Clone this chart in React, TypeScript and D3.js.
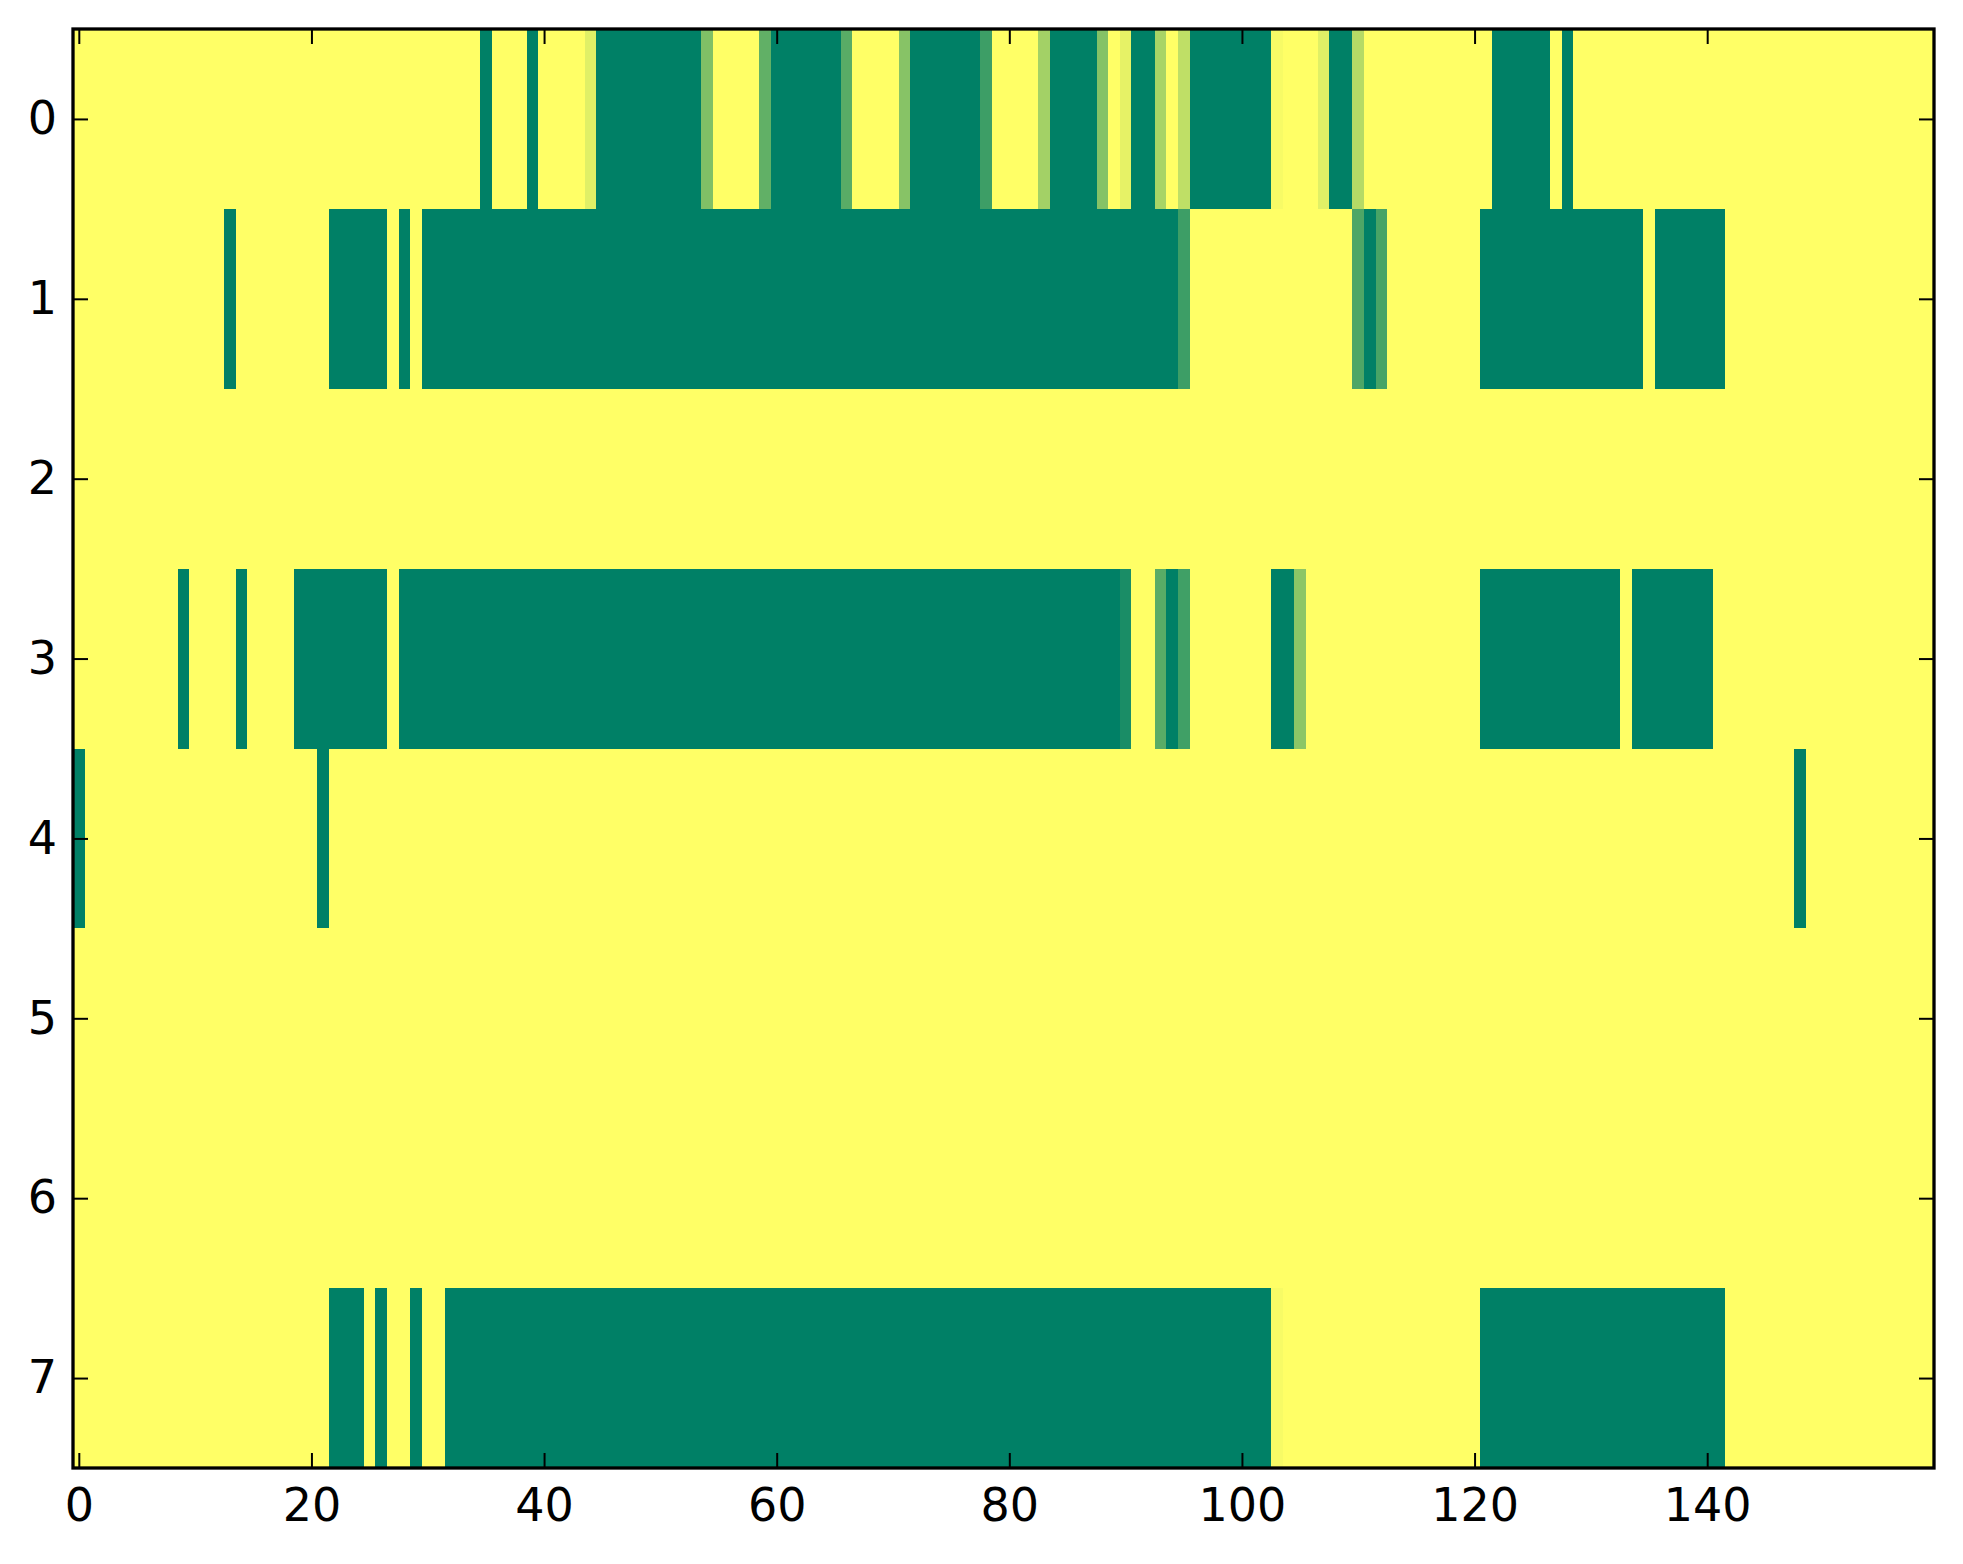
import { useEffect, useRef } from 'react';
import * as d3 from 'd3';

// number of columns in the image and row labels
const nCols = 160;
const rowLabels = [0, 1, 2, 3, 4, 5, 6, 7];
const xTicks = [0, 20, 40, 60, 80, 100, 120, 140];

// runs of non-zero cells per row: [firstCol, lastCol, value]
const row0 = [
  [35, 35, 1], [39, 39, 1], [44, 44, 0.12], [45, 53, 1], [54, 54, 0.5],
  [59, 59, 0.62], [60, 65, 1], [66, 66, 0.65], [71, 71, 0.47], [72, 77, 1],
  [78, 78, 0.76], [83, 83, 0.36], [84, 87, 1], [88, 88, 0.48], [90, 90, 0.1],
  [91, 92, 1], [93, 93, 0.34], [95, 95, 0.25], [96, 102, 1], [103, 103, 0.03],
  [107, 107, 0.12], [108, 109, 1], [110, 110, 0.29], [122, 126, 1], [128, 128, 1],
];
const row1 = [
  [13, 13, 1], [22, 26, 1], [28, 28, 1], [30, 94, 1], [95, 95, 0.76],
  [110, 110, 0.7], [111, 111, 1], [112, 112, 0.72], [121, 134, 1], [136, 141, 1],
];
const row2: number[][] = [];
const row3 = [
  [9, 9, 1], [14, 14, 1], [19, 26, 1], [28, 89, 1], [90, 90, 0.9],
  [93, 93, 0.65], [94, 94, 1], [95, 95, 0.75], [103, 104, 1], [105, 105, 0.45],
  [121, 132, 1], [134, 140, 1],
];
const row4 = [[0, 0, 1], [21, 21, 1], [148, 148, 1]];
const row5: number[][] = [];
const row6: number[][] = [];
const row7 = [
  [22, 24, 1], [26, 26, 1], [29, 29, 1], [32, 102, 1], [103, 103, 0.03], [121, 141, 1],
];
const rowRuns = [row0, row1, row2, row3, row4, row5, row6, row7];

const App = () => {
  const svgRef = useRef(null);

  useEffect(() => {
    const width = 1963;
    const height = 1564;
    const margin = { top: 29, right: 29, bottom: 96, left: 73 };
    const font = 'DejaVu Sans';

    const svg = d3.select(svgRef.current);
    svg.selectAll('*').remove();

    // expand runs into full cells
    const cells: { r: number; c: number; v: number }[] = [];
    rowRuns.forEach((runs, r) => {
      const vals = new Array(nCols).fill(0);
      runs.forEach(([a, b, v]) => {
        for (let c = a; c <= b; c++) vals[c] = v;
      });
      vals.forEach((v, c) => cells.push({ r, c, v }));
    });

    const xScale = d3
      .scaleLinear()
      .domain([-0.5, nCols - 0.5])
      .range([margin.left, width - margin.right]);
    const yScale = d3
      .scaleLinear()
      .domain([-0.5, rowLabels.length - 0.5])
      .range([margin.top, height - margin.bottom]);

    // summer_r colormap
    const colour = d3.scaleLinear<string>().domain([0, 1]).range(['#ffff66', '#008066']);

    svg
      .append('g')
      .selectAll('rect')
      .data(cells)
      .enter()
      .append('rect')
      .attr('x', (d) => xScale(d.c - 0.5))
      .attr('y', (d) => yScale(d.r - 0.5))
      .attr('width', xScale(1) - xScale(0) + 0.4)
      .attr('height', yScale(1) - yScale(0) + 0.4)
      .attr('fill', (d) => colour(d.v))
      .attr('shape-rendering', 'crispEdges');

    const plotW = width - margin.left - margin.right;
    const plotH = height - margin.top - margin.bottom;

    const styleAxis = (g) => {
      g.select('.domain').remove();
      g.selectAll('.tick line').attr('stroke', '#000').attr('stroke-width', 2);
      g.selectAll('.tick text')
        .style('font-family', font)
        .style('font-size', '46px')
        .attr('fill', '#000');
    };

    svg
      .append('g')
      .attr('transform', `translate(0,${height - margin.bottom})`)
      .call(d3.axisBottom(xScale).tickValues(xTicks).tickSize(-15).tickPadding(20))
      .call(styleAxis);
    svg
      .append('g')
      .attr('transform', `translate(0,${margin.top})`)
      .call(d3.axisTop(xScale).tickValues(xTicks).tickSize(-15).tickFormat(() => ''))
      .call(styleAxis);
    svg
      .append('g')
      .attr('transform', `translate(${margin.left},0)`)
      .call(d3.axisLeft(yScale).tickValues(rowLabels).tickSize(-15).tickPadding(16))
      .call(styleAxis);
    svg
      .append('g')
      .attr('transform', `translate(${width - margin.right},0)`)
      .call(d3.axisRight(yScale).tickValues(rowLabels).tickSize(-15).tickFormat(() => ''))
      .call(styleAxis);

    // frame
    svg
      .append('rect')
      .attr('x', margin.left)
      .attr('y', margin.top)
      .attr('width', plotW)
      .attr('height', plotH)
      .attr('fill', 'none')
      .attr('stroke', '#000')
      .attr('stroke-width', 3.3);
  }, []);

  return (
    <div style={{ position: 'absolute', left: 0, top: 0 }}>
      <svg ref={svgRef} width={1963} height={1564} style={{ display: 'block', background: '#fff' }}></svg>
    </div>
  );
};

export default App;
